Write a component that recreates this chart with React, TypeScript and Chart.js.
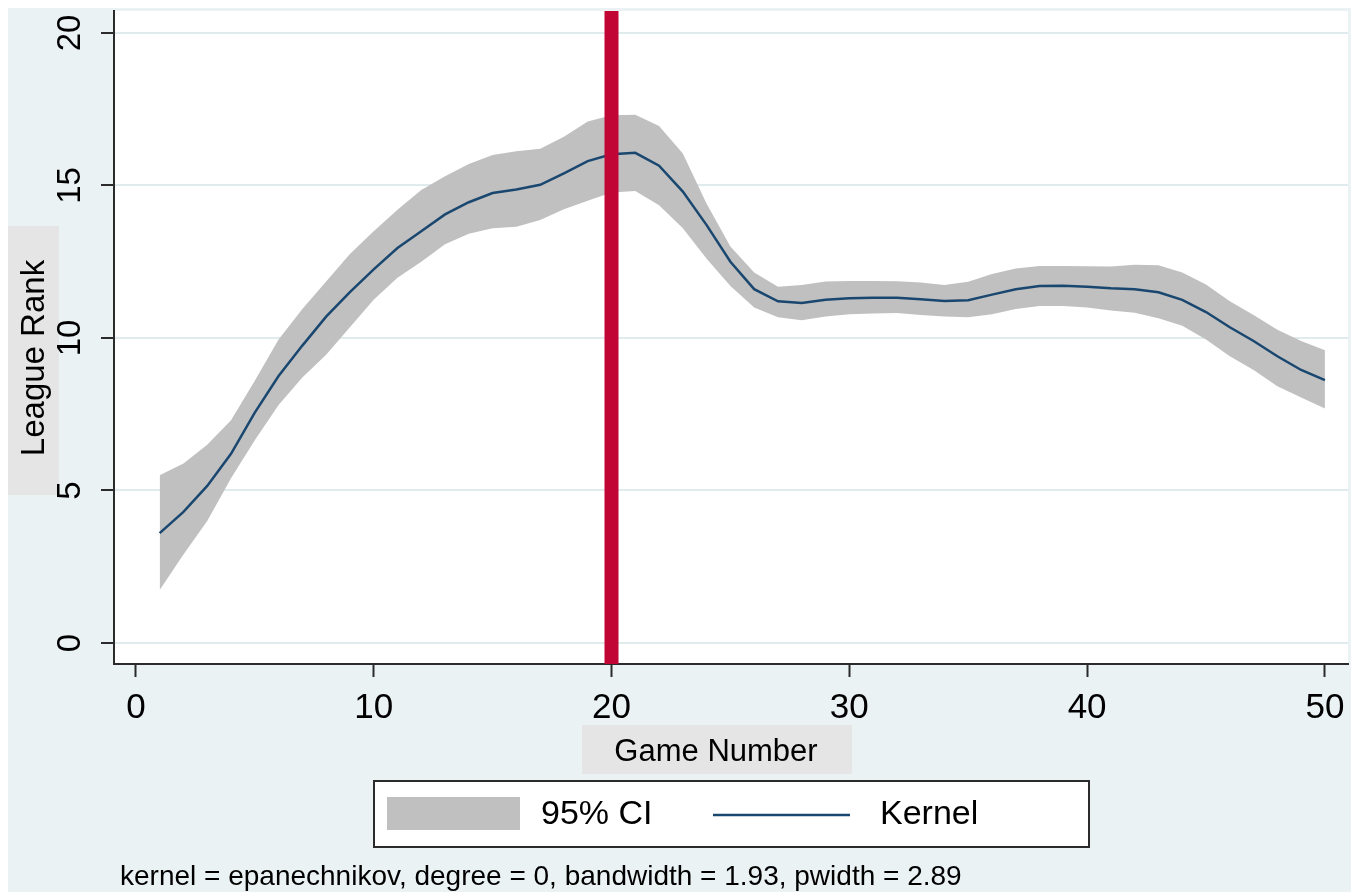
import React, { useEffect, useRef } from "react";
import { Chart, registerables } from "chart.js";

Chart.register(...registerables);

// ---------- data ----------
const gameNumber = [
  1, 2, 3, 4, 5, 6, 7, 8, 9, 10, 11, 12, 13, 14, 15, 16, 17, 18, 19, 20, 21, 22, 23, 24, 25,
  26, 27, 28, 29, 30, 31, 32, 33, 34, 35, 36, 37, 38, 39, 40, 41, 42, 43, 44, 45, 46, 47, 48, 49, 50,
];
const kernelRank = [
  3.6, 4.3, 5.15, 6.2, 7.55, 8.75, 9.75, 10.7, 11.5, 12.25, 12.95, 13.5, 14.05, 14.45, 14.75,
  14.87, 15.02, 15.4, 15.8, 16.02, 16.07, 15.65, 14.8, 13.7, 12.5, 11.6, 11.2, 11.15, 11.25, 11.3,
  11.32, 11.32, 11.27, 11.21, 11.24, 11.42, 11.6, 11.7, 11.71, 11.68, 11.63, 11.6, 11.5, 11.25,
  10.85, 10.35, 9.9, 9.4, 8.95, 8.62,
];
const ciUpper = [
  5.5, 5.88, 6.5, 7.3, 8.6, 9.95, 10.95, 11.85, 12.75, 13.5, 14.2, 14.85, 15.3, 15.7, 16.0,
  16.12, 16.2, 16.6, 17.1, 17.3, 17.32, 16.95, 16.05, 14.4, 13.0, 12.15, 11.68, 11.74, 11.85, 11.87,
  11.87, 11.86, 11.82, 11.74, 11.84, 12.1, 12.28, 12.36, 12.36, 12.35, 12.34, 12.4, 12.38, 12.15,
  11.75, 11.2, 10.75, 10.27, 9.9, 9.6,
];
const ciLower = [
  1.74, 2.9, 4.0, 5.4, 6.65, 7.8, 8.7, 9.45, 10.35, 11.25, 11.97, 12.5, 13.07, 13.42, 13.6,
  13.65, 13.87, 14.22, 14.5, 14.77, 14.82, 14.35, 13.6, 12.6, 11.7, 11.0, 10.68, 10.58, 10.7, 10.78,
  10.8, 10.82, 10.75, 10.7, 10.68, 10.78, 10.95, 11.05, 11.05, 11.0, 10.9, 10.83, 10.65, 10.4,
  9.95, 9.4, 8.95, 8.42, 8.05, 7.69,
];
const cutoffGame = 20;
const xRange = [-0.92, 50.97];
const yRange = [-0.69, 20.72];
const xStep = 10;
const yStep = 5;

const xTitle = "Game Number";
const yTitle = "League Rank";
const legendLabels = ["95% CI", "Kernel"];
const noteText = "kernel = epanechnikov, degree = 0, bandwidth = 1.93, pwidth = 2.89";

// ---------- styles ----------
const FONT = '"Liberation Sans", Arial, Helvetica, sans-serif';
const BG = "#EAF2F3";
const TITLE_BG = "#E5E5E5";
const GRID = "#E0EBEE";
const AXIS = "#2b2b2b";
const BAND = "#C0C0C0";
const NAVY = "#1A476F";
const RED = "#C10534";

const W = 1343;
const H = 884;

const zeroPad = (s: any) => {
  s.paddingTop = 0;
  s.paddingBottom = 0;
  s.paddingLeft = 0;
  s.paddingRight = 0;
};

const decorPlugin = {
  id: "stataDecor",
  beforeDraw(chart: any) {
    const { ctx, chartArea: a } = chart;
    ctx.save();
    ctx.fillStyle = BG;
    ctx.fillRect(0, 0, chart.width, chart.height);
    ctx.fillStyle = "#ffffff";
    ctx.fillRect(a.left, a.top, a.right - a.left, a.bottom - a.top);
    ctx.fillStyle = TITLE_BG;
    ctx.fillRect(0, 218, 51, 269);
    ctx.fillRect(574, 717, 270, 49);
    ctx.restore();
  },
  afterDraw(chart: any) {
    const { ctx } = chart;
    const ds = chart.data.datasets;
    ctx.save();
    ctx.fillStyle = "#000";
    // y title
    ctx.font = `33px ${FONT}`;
    ctx.textAlign = "center";
    ctx.textBaseline = "middle";
    ctx.save();
    ctx.translate(27, 350);
    ctx.rotate(-Math.PI / 2);
    ctx.fillText(yTitle, 0, 0);
    ctx.restore();
    // x title
    ctx.font = `31px ${FONT}`;
    ctx.fillText(xTitle, 708, 744);
    // legend
    ctx.fillStyle = "#ffffff";
    ctx.fillRect(366, 773, 715, 66);
    ctx.strokeStyle = AXIS;
    ctx.lineWidth = 2;
    ctx.strokeRect(366, 773, 715, 66);
    ctx.fillStyle = ds[1].backgroundColor;
    ctx.fillRect(379, 789, 133, 33);
    ctx.strokeStyle = ds[2].borderColor;
    ctx.lineWidth = 2.5;
    ctx.beginPath();
    ctx.moveTo(705, 807);
    ctx.lineTo(842, 807);
    ctx.stroke();
    ctx.fillStyle = "#000";
    ctx.font = `34px ${FONT}`;
    ctx.textAlign = "left";
    ctx.fillText(legendLabels[0], 533, 807);
    ctx.fillText(legendLabels[1], 872, 807);
    // note
    ctx.font = `28px ${FONT}`;
    ctx.textBaseline = "alphabetic";
    ctx.fillText(noteText, 112, 877);
    ctx.restore();
  },
};

export default function App() {
  const ref = useRef<HTMLCanvasElement | null>(null);

  useEffect(() => {
    document.documentElement.style.overflow = "hidden";
    const canvas = ref.current;
    if (!canvas) return;
    const pts = (ys: number[]) => gameNumber.map((g, i) => ({ x: g, y: ys[i] }));
    const chart = new Chart(canvas, {
      type: "line",
      data: {
        datasets: [
          {
            label: "lower",
            data: pts(ciLower),
            borderColor: "rgba(0,0,0,0)",
            borderWidth: 0,
            pointRadius: 0,
            fill: false,
            tension: 0,
            order: 3,
          },
          {
            label: legendLabels[0],
            data: pts(ciUpper),
            borderColor: "rgba(0,0,0,0)",
            backgroundColor: BAND,
            borderWidth: 0,
            pointRadius: 0,
            fill: "-1",
            tension: 0,
            order: 2,
          },
          {
            label: legendLabels[1],
            data: pts(kernelRank),
            borderColor: NAVY,
            borderWidth: 2.5,
            pointRadius: 0,
            fill: false,
            tension: 0,
            order: 1,
          },
          {
            label: "xline",
            data: [
              { x: cutoffGame, y: yRange[0] },
              { x: cutoffGame, y: yRange[1] },
            ],
            borderColor: RED,
            borderWidth: 14,
            borderCapStyle: "butt",
            pointRadius: 0,
            fill: false,
            order: 0,
          },
        ] as any,
      },
      options: {
        responsive: false,
        animation: false,
        devicePixelRatio: 1,
        layout: { padding: { top: 3, right: 3, left: 0, bottom: 0 } },
        plugins: {
          legend: { display: false },
          tooltip: { enabled: false },
        },
        scales: {
          x: {
            type: "linear",
            min: xRange[0],
            max: xRange[1],
            afterFit: (s: any) => {
              s.height = 228;
              zeroPad(s);
            },
            border: { display: true, color: AXIS, width: 2 },
            grid: {
              drawOnChartArea: false,
              drawTicks: true,
              tickLength: 13,
              tickColor: AXIS,
              tickWidth: 2,
            },
            ticks: {
              stepSize: xStep,
              includeBounds: false,
              autoSkip: false,
              minRotation: 0,
              maxRotation: 0,
              padding: 10,
              color: "#000",
              font: { family: FONT, size: 35 },
            },
          },
          y: {
            type: "linear",
            min: yRange[0],
            max: yRange[1],
            afterFit: (s: any) => {
              s.width = 106;
              zeroPad(s);
            },
            border: { display: true, color: AXIS, width: 2 },
            grid: {
              color: GRID,
              lineWidth: 2,
              drawTicks: true,
              tickLength: 13,
              tickColor: AXIS,
              tickWidth: 2,
            },
            ticks: {
              stepSize: yStep,
              includeBounds: false,
              autoSkip: false,
              minRotation: 90,
              maxRotation: 90,
              crossAlign: "center",
              padding: 12,
              color: "#000",
              font: { family: FONT, size: 33 },
            },
          },
        } as any,
      },
      plugins: [decorPlugin],
    });
    return () => chart.destroy();
  }, []);

  return (
    <canvas
      ref={ref}
      width={W}
      height={H}
      style={{ display: "block", width: W, height: H }}
    />
  );
}
